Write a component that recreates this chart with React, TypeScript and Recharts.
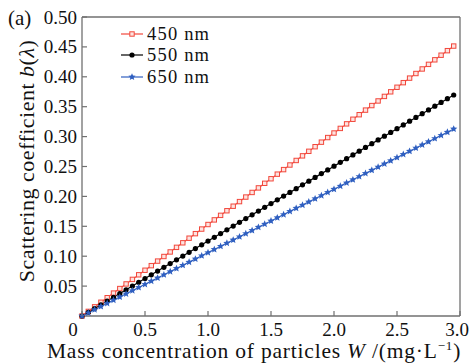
import React from 'react';
import { LineChart, Line, XAxis, YAxis, ReferenceLine, Legend } from 'recharts';

const massW = [0, 0.05, 0.1, 0.15, 0.2, 0.25, 0.3, 0.35, 0.4, 0.45, 0.5, 0.55, 0.6, 0.65, 0.7, 0.75, 0.8, 0.85, 0.9, 0.95, 1.0, 1.05, 1.1, 1.15, 1.2, 1.25, 1.3, 1.35, 1.4, 1.45, 1.5, 1.55, 1.6, 1.65, 1.7, 1.75, 1.8, 1.85, 1.9, 1.95, 2.0, 2.05, 2.1, 2.15, 2.2, 2.25, 2.3, 2.35, 2.4, 2.45, 2.5, 2.55, 2.6, 2.65, 2.7, 2.75, 2.8, 2.85, 2.9, 2.95];

const b450 = [0, 0.0077, 0.0153, 0.0230, 0.0306, 0.0383, 0.0459, 0.0536, 0.0612, 0.0689, 0.0765, 0.0842, 0.0918, 0.0995, 0.1071, 0.1148, 0.1224, 0.1301, 0.1377, 0.1454, 0.1530, 0.1607, 0.1683, 0.1760, 0.1836, 0.1913, 0.1989, 0.2066, 0.2142, 0.2219, 0.2295, 0.2372, 0.2448, 0.2525, 0.2601, 0.2678, 0.2754, 0.2831, 0.2907, 0.2984, 0.3060, 0.3137, 0.3213, 0.3290, 0.3366, 0.3443, 0.3519, 0.3596, 0.3672, 0.3749, 0.3825, 0.3902, 0.3978, 0.4055, 0.4131, 0.4208, 0.4284, 0.4361, 0.4437, 0.4514];

const b550 = [0, 0.0063, 0.0125, 0.0188, 0.0251, 0.0313, 0.0376, 0.0439, 0.0501, 0.0564, 0.0627, 0.0689, 0.0752, 0.0814, 0.0877, 0.0940, 0.1002, 0.1065, 0.1128, 0.1190, 0.1253, 0.1316, 0.1378, 0.1441, 0.1504, 0.1566, 0.1629, 0.1692, 0.1754, 0.1817, 0.1880, 0.1942, 0.2005, 0.2067, 0.2130, 0.2193, 0.2255, 0.2318, 0.2381, 0.2443, 0.2506, 0.2569, 0.2631, 0.2694, 0.2757, 0.2819, 0.2882, 0.2945, 0.3007, 0.3070, 0.3133, 0.3195, 0.3258, 0.3320, 0.3383, 0.3446, 0.3508, 0.3571, 0.3634, 0.3696];

const b650 = [0, 0.0053, 0.0106, 0.0159, 0.0212, 0.0265, 0.0318, 0.0371, 0.0424, 0.0477, 0.0530, 0.0583, 0.0636, 0.0689, 0.0742, 0.0795, 0.0848, 0.0901, 0.0954, 0.1007, 0.1060, 0.1113, 0.1166, 0.1219, 0.1272, 0.1325, 0.1378, 0.1431, 0.1484, 0.1537, 0.1590, 0.1643, 0.1696, 0.1749, 0.1802, 0.1855, 0.1908, 0.1961, 0.2014, 0.2067, 0.2120, 0.2173, 0.2226, 0.2279, 0.2332, 0.2385, 0.2438, 0.2491, 0.2544, 0.2597, 0.2650, 0.2703, 0.2756, 0.2809, 0.2862, 0.2915, 0.2968, 0.3021, 0.3074, 0.3127];

const xTicks = [0, 0.5, 1.0, 1.5, 2.0, 2.5, 3.0];
const yTicks = [0.05, 0.1, 0.15, 0.2, 0.25, 0.3, 0.35, 0.4, 0.45, 0.5];
const seriesNames = ['450 nm', '550 nm', '650 nm'];

const data = massW.map((w, i) => ({ w, s450: b450[i], s550: b550[i], s650: b650[i] }));

const FONT = 'Liberation Serif';
const AXIS = '#707070';
const RED = '#f2473b';
const BLACK = '#000000';
const BLUE = '#2f5fc0';

const starPath = (cx: number, cy: number, r: number) => {
  const pts: string[] = [];
  for (let k = 0; k < 10; k++) {
    const rr = k % 2 === 0 ? r : r * 0.45;
    const a = -Math.PI / 2 + (k * Math.PI) / 5;
    pts.push(`${(cx + rr * Math.cos(a)).toFixed(2)},${(cy + rr * Math.sin(a)).toFixed(2)}`);
  }
  return 'M' + pts.join('L') + 'Z';
};

const Marker = ({ kind, cx, cy }: { kind: string; cx: number; cy: number }) => {
  if (kind === 's450') {
    return <rect x={cx - 2.2} y={cy - 2.2} width={4.4} height={4.4} fill="#fde3e0" stroke={RED} strokeWidth={1} />;
  }
  if (kind === 's550') {
    return <circle cx={cx} cy={cy} r={2.6} fill={BLACK} />;
  }
  return <path d={starPath(cx, cy, 3.8)} fill={BLUE} />;
};

const makeDot = (kind: string) => (props: any) => {
  const { cx, cy, index } = props;
  if (cx == null || cy == null) return <g key={`${kind}-${index}`} />;
  return <g key={`${kind}-${index}`}><Marker kind={kind} cx={cx} cy={cy} /></g>;
};

const XTick = (props: any) => {
  const { x, y, payload } = props;
  const v = payload.value as number;
  const label = v === 0 ? '0' : v.toFixed(1);
  let tx = x;
  if (v === 0) tx = x - 9;
  if (v === 3) tx = x - 3;
  return (
    <g>
      <line x1={x} x2={x} y1={y} y2={y - 5} stroke={AXIS} strokeWidth={1.2} />
      <text x={tx} y={y + 20} textAnchor="middle" fontFamily={FONT} fontSize={19} fill="#111">{label}</text>
    </g>
  );
};

const YTick = (props: any) => {
  const { x, y, payload } = props;
  const v = payload.value as number;
  return (
    <g>
      <line x1={x} x2={x + 5} y1={y} y2={y} stroke={AXIS} strokeWidth={1.2} />
      <text x={x - 5} y={y + 6.5} textAnchor="end" fontFamily={FONT} fontSize={19} fill="#111">{v.toFixed(2)}</text>
    </g>
  );
};

const renderLegend = (props: any) => {
  const { payload } = props;
  return (
    <div style={{ fontFamily: FONT, fontSize: 18.5, letterSpacing: 1.2, color: '#111', lineHeight: 1 }}>
      {(payload || []).map((p: any) => (
        <div key={p.dataKey} style={{ display: 'flex', alignItems: 'center', height: 21.5 }}>
          <svg width={22} height={12} style={{ marginRight: 4 }}>
            <line x1={0} x2={22} y1={6} y2={6} stroke={p.color} strokeWidth={1.2} />
            <Marker kind={p.dataKey} cx={11} cy={6} />
          </svg>
          <span style={{ lineHeight: '18px' }}>{p.value}</span>
        </div>
      ))}
    </div>
  );
};

export default function App() {
  return (
    <div style={{ position: 'absolute', left: 0, top: 0, width: 473, height: 364, background: '#fff' }}>
      <LineChart width={473} height={364} data={data} margin={{ top: 17, right: 13, bottom: 0, left: 0 }}>
        <XAxis
          dataKey="w"
          type="number"
          domain={[0, 3]}
          ticks={xTicks}
          height={48}
          tickSize={0}
          tickMargin={0}
          tickLine={false}
          tick={<XTick />}
          axisLine={{ stroke: AXIS, strokeWidth: 1.3 }}
          interval={0}
        />
        <YAxis
          type="number"
          domain={[0, 0.5]}
          ticks={yTicks}
          width={82}
          tickSize={0}
          tickMargin={0}
          tickLine={false}
          tick={<YTick />}
          axisLine={{ stroke: AXIS, strokeWidth: 1.3 }}
          interval={0}
        />
        <ReferenceLine y={0.5} stroke={AXIS} strokeWidth={1.3} />
        <ReferenceLine x={3} stroke={AXIS} strokeWidth={1.3} />
        <Legend
          layout="vertical"
          verticalAlign="middle"
          align="center"
          content={renderLegend}
          wrapperStyle={{ left: 121, top: 23, width: 130, height: 66 }}
        />
        <Line dataKey="s450" name={seriesNames[0]} stroke={RED} strokeWidth={1.2} dot={makeDot('s450')} isAnimationActive={false} />
        <Line dataKey="s550" name={seriesNames[1]} stroke={BLACK} strokeWidth={1.2} dot={makeDot('s550')} isAnimationActive={false} />
        <Line dataKey="s650" name={seriesNames[2]} stroke={BLUE} strokeWidth={1.2} dot={makeDot('s650')} isAnimationActive={false} />
        <text x={8} y={25} fontFamily={FONT} fontSize={21} fill="#111">(a)</text>
        <text x={254} y={358} textAnchor="middle" fontFamily={FONT} fontSize={21.5} letterSpacing={0.8} fill="#111">
          Mass concentration of particles <tspan fontStyle="italic">W</tspan> /(mg·L<tspan fontSize={13} dy={-8}>−1</tspan><tspan dy={8}>)</tspan>
        </text>
        <text x={34} y={161} transform="rotate(-90 34 161)" textAnchor="middle" fontFamily={FONT} fontSize={22} letterSpacing={0.5} fill="#111">
          Scattering coefficient <tspan fontStyle="italic">b</tspan>(<tspan fontStyle="italic">λ</tspan>)
        </text>
      </LineChart>
    </div>
  );
}
